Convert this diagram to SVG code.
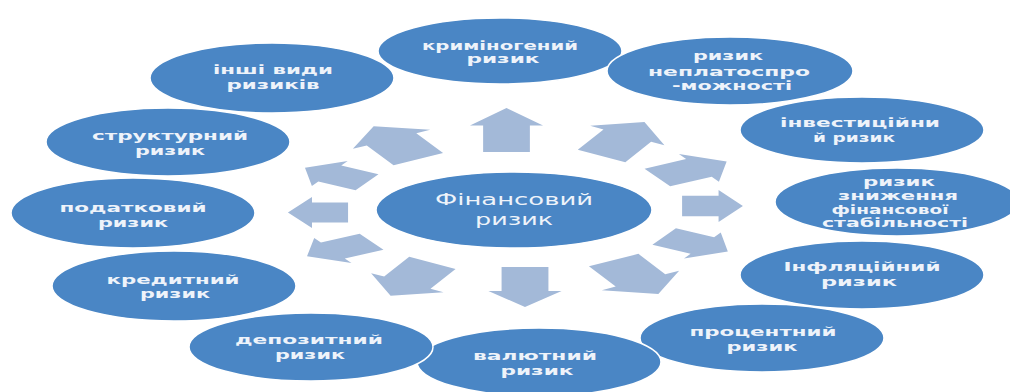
<svg xmlns="http://www.w3.org/2000/svg" xmlns:xlink="http://www.w3.org/1999/xlink" width="1010" height="392" viewBox="0 0 1010 392">
<style>
.n{fill:#4a86c5;stroke:#ffffff;stroke-width:1.5}
.t{font-family:"DejaVu Sans","Liberation Sans",sans-serif;font-weight:bold;font-size:13px;fill:#eef3fa;text-anchor:middle}
.c{font-family:"DejaVu Sans","Liberation Sans",sans-serif;font-size:16px;fill:#eef3fa;text-anchor:middle}
</style>
<defs>
<path id="arr" d="M-0.5,-0.32H0.1V-0.5L0.5,0L0.1,0.5V0.32H-0.5Z" fill="#a3b9d8"/>
</defs>
<rect width="1010" height="392" fill="#ffffff"/>
<g id="connectors">
<use xlink:href="#arr" transform="translate(506.5,130) scale(1.66,1) rotate(-90) scale(44)"/>
<use xlink:href="#arr" transform="translate(623,139) scale(2.2,1) rotate(-60) scale(39)"/>
<use xlink:href="#arr" transform="translate(692,169.5) scale(2.5,1) rotate(-30) scale(32)"/>
<use xlink:href="#arr" transform="translate(712.5,206) scale(1.9,1) rotate(0) scale(32)"/>
<use xlink:href="#arr" transform="translate(696,244) scale(2.45,1) rotate(30) scale(30)"/>
<use xlink:href="#arr" transform="translate(636,277) scale(2.29,1) rotate(60) scale(39)"/>
<use xlink:href="#arr" transform="translate(525,287) scale(1.83,1) rotate(90) scale(40)"/>
<use xlink:href="#arr" transform="translate(411.5,279.4) scale(2.2,1) rotate(120) scale(38)"/>
<use xlink:href="#arr" transform="translate(339.3,249) scale(2.57,1) rotate(150) scale(29)"/>
<use xlink:href="#arr" transform="translate(318,212.5) scale(1.94,1) rotate(180) scale(31)"/>
<use xlink:href="#arr" transform="translate(336,175) scale(2.47,1) rotate(210) scale(29)"/>
<use xlink:href="#arr" transform="translate(396,142.6) scale(2.35,1) rotate(240) scale(38)"/>
</g>
<g id="center">
<ellipse class="n" cx="514" cy="210" rx="138" ry="38"/>
<text class="c" x="514" y="205" textLength="158" lengthAdjust="spacingAndGlyphs">Фінансовий</text>
<text class="c" x="514" y="225" textLength="78" lengthAdjust="spacingAndGlyphs">ризик</text>
</g>
<g id="n-kriminogenny">
<ellipse class="n" cx="500" cy="51" rx="122" ry="33"/>
<text class="t" x="500" y="49.5" textLength="156" lengthAdjust="spacingAndGlyphs">криміногений</text>
<text class="t" x="503" y="63" textLength="73" lengthAdjust="spacingAndGlyphs">ризик</text>
</g>
<g id="n-neplato">
<ellipse class="n" cx="730" cy="71" rx="123" ry="34"/>
<text class="t" x="728" y="60" textLength="70" lengthAdjust="spacingAndGlyphs">ризик</text>
<text class="t" x="729" y="75.5" textLength="162" lengthAdjust="spacingAndGlyphs">неплатоспро</text>
<text class="t" x="732" y="90" textLength="120" lengthAdjust="spacingAndGlyphs">-можності</text>
</g>
<g id="n-invest">
<ellipse class="n" cx="862" cy="130" rx="122" ry="33"/>
<text class="t" x="860" y="127" textLength="160" lengthAdjust="spacingAndGlyphs">інвестиційни</text>
<text class="t" x="854" y="141.5" textLength="82" lengthAdjust="spacingAndGlyphs">й ризик</text>
</g>
<g id="n-znyzhennia">
<ellipse class="n" cx="897" cy="202" rx="122" ry="34"/>
<text class="t" x="899" y="186" textLength="72" lengthAdjust="spacingAndGlyphs">ризик</text>
<text class="t" x="898" y="199.5" textLength="120" lengthAdjust="spacingAndGlyphs">зниження</text>
<text class="t" x="890" y="213.5" textLength="117" lengthAdjust="spacingAndGlyphs">фінансової</text>
<text class="t" x="895" y="227" textLength="146" lengthAdjust="spacingAndGlyphs">стабільності</text>
</g>
<g id="n-infl">
<ellipse class="n" cx="862" cy="275" rx="122" ry="34"/>
<text class="t" x="862" y="271" textLength="157" lengthAdjust="spacingAndGlyphs">Інфляційний</text>
<text class="t" x="859" y="286" textLength="76" lengthAdjust="spacingAndGlyphs">ризик</text>
</g>
<g id="n-protsent">
<ellipse class="n" cx="762" cy="338" rx="122" ry="34"/>
<text class="t" x="763" y="336" textLength="147" lengthAdjust="spacingAndGlyphs">процентний</text>
<text class="t" x="762" y="350.5" textLength="71" lengthAdjust="spacingAndGlyphs">ризик</text>
</g>
<g id="n-valiut">
<ellipse class="n" cx="539" cy="362" rx="122" ry="34"/>
<text class="t" x="535" y="359.5" textLength="124" lengthAdjust="spacingAndGlyphs">валютний</text>
<text class="t" x="537" y="375" textLength="73" lengthAdjust="spacingAndGlyphs">ризик</text>
</g>
<g id="n-depozyt">
<ellipse class="n" cx="311" cy="347" rx="122" ry="34"/>
<text class="t" x="309" y="344" textLength="148" lengthAdjust="spacingAndGlyphs">депозитний</text>
<text class="t" x="310" y="358.5" textLength="70" lengthAdjust="spacingAndGlyphs">ризик</text>
</g>
<g id="n-kredyt">
<ellipse class="n" cx="174" cy="286" rx="122" ry="35"/>
<text class="t" x="173" y="283.5" textLength="133" lengthAdjust="spacingAndGlyphs">кредитний</text>
<text class="t" x="175" y="298" textLength="70" lengthAdjust="spacingAndGlyphs">ризик</text>
</g>
<g id="n-podatk">
<ellipse class="n" cx="133" cy="213" rx="122" ry="35"/>
<text class="t" x="133" y="212" textLength="147" lengthAdjust="spacingAndGlyphs">податковий</text>
<text class="t" x="133" y="226.5" textLength="70" lengthAdjust="spacingAndGlyphs">ризик</text>
</g>
<g id="n-struktur">
<ellipse class="n" cx="168" cy="142" rx="122" ry="34"/>
<text class="t" x="170" y="140" textLength="156" lengthAdjust="spacingAndGlyphs">структурний</text>
<text class="t" x="170" y="154.5" textLength="70" lengthAdjust="spacingAndGlyphs">ризик</text>
</g>
<g id="n-inshi">
<ellipse class="n" cx="272" cy="78" rx="122" ry="35"/>
<text class="t" x="273" y="74" textLength="120" lengthAdjust="spacingAndGlyphs">інші види</text>
<text class="t" x="273" y="88.5" textLength="93" lengthAdjust="spacingAndGlyphs">ризиків</text>
</g>
</svg>
